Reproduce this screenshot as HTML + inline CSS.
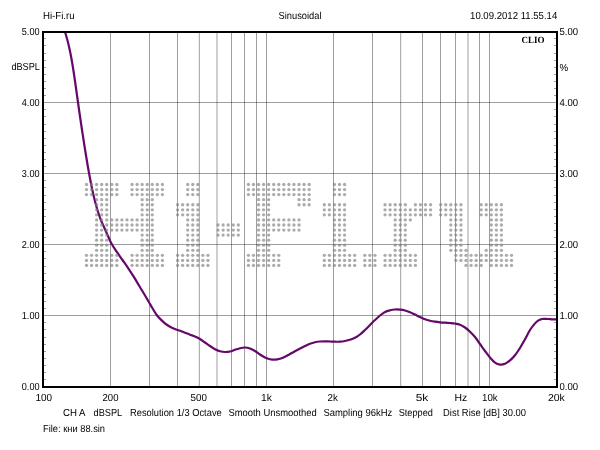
<!DOCTYPE html>
<html><head><meta charset="utf-8"><title>CLIO Sinusoidal</title>
<style>html,body{margin:0;padding:0;background:#fff;width:600px;height:450px;overflow:hidden}svg{display:block}text{font-family:"Liberation Sans","Noto Sans CJK SC",sans-serif;font-size:10.2px;fill:#000;text-rendering:geometricPrecision}.clio{font-family:"Liberation Serif",serif;font-weight:bold;font-size:9.4px;text-rendering:geometricPrecision}</style></head><body>
<svg width="600" height="450" viewBox="0 0 600 450">
<rect x="0" y="0" width="600" height="450" fill="#fff"/>
<path d="M110.50 33V386 M149.50 33V386 M177.50 33V386 M199.30 33V386 M217.00 33V386 M231.50 33V386 M244.50 33V386 M256.50 33V386 M266.50 33V386 M333.50 33V386 M372.50 33V386 M400.70 33V386 M422.50 33V386 M440.50 33V386 M455.50 33V386 M468.00 33V386 M479.50 33V386 M489.50 33V386" stroke="#000" stroke-opacity="0.38" stroke-width="1" fill="none"/>
<path d="M44 315.50H556 M44 244.50H556 M44 173.50H556 M44 102.50H556" stroke="#000" stroke-opacity="0.38" stroke-width="1" fill="none"/>
<defs><clipPath id="pc"><rect x="44" y="33" width="512" height="353"/></clipPath></defs>
<path clip-path="url(#pc)" d="M63.64 28.00 C63.98 29.00 65.03 32.00 65.65 34.00 C66.27 36.00 66.84 38.00 67.37 40.00 C67.91 42.00 68.39 44.00 68.86 46.00 C69.33 48.00 69.76 50.00 70.17 52.00 C70.58 54.00 70.96 56.00 71.33 58.00 C71.70 60.00 72.04 62.00 72.38 64.00 C72.72 66.00 73.04 68.00 73.35 70.00 C73.66 72.00 73.96 74.00 74.26 76.00 C74.56 78.00 74.84 80.00 75.13 82.00 C75.42 84.00 75.70 86.00 75.98 88.00 C76.26 90.00 76.54 92.00 76.82 94.00 C77.10 96.00 77.39 98.00 77.67 100.00 C77.95 102.00 78.23 104.00 78.51 106.00 C78.79 108.00 79.08 110.00 79.37 112.00 C79.66 114.00 79.95 116.00 80.24 118.00 C80.53 120.00 80.82 122.00 81.12 124.00 C81.42 126.00 81.72 128.00 82.02 130.00 C82.32 132.00 82.63 134.00 82.94 136.00 C83.25 138.00 83.55 140.00 83.86 142.00 C84.17 144.00 84.49 146.00 84.81 148.00 C85.13 150.00 85.44 152.00 85.77 154.00 C86.09 156.00 86.43 158.00 86.76 160.00 C87.09 162.00 87.42 164.00 87.77 166.00 C88.11 168.00 88.47 170.00 88.83 172.00 C89.19 174.00 89.55 176.00 89.93 178.00 C90.31 180.00 90.69 182.00 91.09 184.00 C91.49 186.00 91.91 188.00 92.34 190.00 C92.78 192.00 93.23 194.00 93.70 196.00 C94.17 198.00 94.66 200.00 95.19 202.00 C95.72 204.00 96.26 206.00 96.85 208.00 C97.44 210.00 98.05 212.00 98.72 214.00 C99.39 216.00 100.17 218.27 100.85 220.00 C101.53 221.73 102.07 222.77 102.80 224.40 C103.53 226.03 104.33 227.87 105.20 229.80 C106.07 231.73 106.98 233.75 108.00 236.00 C109.02 238.25 109.85 240.68 111.30 243.30 C112.75 245.92 114.83 248.92 116.70 251.70 C118.57 254.48 120.57 257.23 122.50 260.00 C124.43 262.77 126.43 265.52 128.30 268.30 C130.17 271.08 131.97 273.92 133.70 276.70 C135.43 279.48 137.03 282.23 138.70 285.00 C140.37 287.77 142.03 290.52 143.70 293.30 C145.37 296.08 147.23 299.20 148.70 301.70 C150.17 304.20 151.17 306.08 152.50 308.30 C153.83 310.52 155.45 313.27 156.70 315.00 C157.95 316.73 158.63 317.32 160.00 318.70 C161.37 320.08 163.23 321.97 164.90 323.30 C166.57 324.63 168.33 325.73 170.00 326.70 C171.67 327.67 173.23 328.43 174.90 329.10 C176.57 329.77 178.32 330.10 180.00 330.70 C181.68 331.30 183.33 332.03 185.00 332.70 C186.67 333.37 188.33 334.07 190.00 334.70 C191.67 335.33 193.33 335.78 195.00 336.50 C196.67 337.22 198.33 338.00 200.00 339.00 C201.67 340.00 203.33 341.33 205.00 342.50 C206.67 343.67 208.33 344.88 210.00 346.00 C211.67 347.12 213.33 348.33 215.00 349.20 C216.67 350.07 218.33 350.73 220.00 351.20 C221.67 351.67 223.33 351.95 225.00 352.00 C226.67 352.05 228.33 351.87 230.00 351.50 C231.67 351.13 233.33 350.35 235.00 349.80 C236.67 349.25 238.33 348.58 240.00 348.20 C241.67 347.82 243.33 347.45 245.00 347.50 C246.67 347.55 248.33 347.92 250.00 348.50 C251.67 349.08 253.33 350.00 255.00 351.00 C256.67 352.00 258.33 353.42 260.00 354.50 C261.67 355.58 263.33 356.72 265.00 357.50 C266.67 358.28 268.33 358.83 270.00 359.20 C271.67 359.57 273.33 359.77 275.00 359.70 C276.67 359.63 278.33 359.28 280.00 358.80 C281.67 358.32 283.33 357.60 285.00 356.80 C286.67 356.00 288.33 354.93 290.00 354.00 C291.67 353.07 293.33 352.10 295.00 351.20 C296.67 350.30 298.33 349.47 300.00 348.60 C301.67 347.73 303.33 346.82 305.00 346.00 C306.67 345.18 308.33 344.33 310.00 343.70 C311.67 343.07 313.33 342.57 315.00 342.20 C316.67 341.83 318.33 341.65 320.00 341.50 C321.67 341.35 323.33 341.30 325.00 341.30 C326.67 341.30 328.33 341.43 330.00 341.50 C331.67 341.57 333.33 341.67 335.00 341.70 C336.67 341.73 338.33 341.82 340.00 341.70 C341.67 341.58 343.33 341.32 345.00 341.00 C346.67 340.68 348.33 340.33 350.00 339.80 C351.67 339.27 353.33 338.68 355.00 337.80 C356.67 336.92 358.33 335.80 360.00 334.50 C361.67 333.20 363.33 331.58 365.00 330.00 C366.67 328.42 368.33 326.67 370.00 325.00 C371.67 323.33 373.33 321.58 375.00 320.00 C376.67 318.42 378.33 316.83 380.00 315.50 C381.67 314.17 383.33 312.87 385.00 312.00 C386.67 311.13 388.33 310.72 390.00 310.30 C391.67 309.88 393.33 309.60 395.00 309.50 C396.67 309.40 398.33 309.53 400.00 309.70 C401.67 309.87 403.33 310.08 405.00 310.50 C406.67 310.92 408.33 311.52 410.00 312.20 C411.67 312.88 413.33 313.80 415.00 314.60 C416.67 315.40 418.33 316.22 420.00 317.00 C421.67 317.78 423.33 318.67 425.00 319.30 C426.67 319.93 428.33 320.40 430.00 320.80 C431.67 321.20 433.33 321.45 435.00 321.70 C436.67 321.95 438.33 322.13 440.00 322.30 C441.67 322.47 443.33 322.58 445.00 322.70 C446.67 322.82 448.33 322.87 450.00 323.00 C451.67 323.13 453.33 323.22 455.00 323.50 C456.67 323.78 458.33 324.03 460.00 324.70 C461.67 325.37 463.33 326.33 465.00 327.50 C466.67 328.67 468.33 330.12 470.00 331.70 C471.67 333.28 473.33 334.95 475.00 337.00 C476.67 339.05 478.33 341.67 480.00 344.00 C481.67 346.33 483.33 348.75 485.00 351.00 C486.67 353.25 488.33 355.57 490.00 357.50 C491.67 359.43 493.33 361.42 495.00 362.60 C496.67 363.78 498.33 364.40 500.00 364.60 C501.67 364.80 503.33 364.50 505.00 363.80 C506.67 363.10 508.33 361.83 510.00 360.40 C511.67 358.97 513.33 357.27 515.00 355.20 C516.67 353.13 518.33 350.65 520.00 348.00 C521.67 345.35 523.33 342.30 525.00 339.30 C526.67 336.30 528.40 332.57 530.00 330.00 C531.60 327.43 533.25 325.45 534.60 323.90 C535.95 322.35 536.87 321.52 538.10 320.70 C539.33 319.88 540.82 319.32 542.00 319.00 C543.18 318.68 544.07 318.80 545.20 318.80 C546.33 318.80 547.62 318.90 548.80 319.00 C549.98 319.10 551.10 319.35 552.30 319.40 C553.50 319.45 554.72 319.32 556.00 319.30 C557.28 319.28 559.33 319.30 560.00 319.30" fill="none" stroke="#66086a" stroke-width="2.2" stroke-linejoin="round" stroke-linecap="round"/>
<g fill="#808080" fill-opacity="0.66"><circle cx="86.50" cy="184.50" r="1.65"/><circle cx="86.50" cy="189.56" r="1.65"/><circle cx="86.50" cy="194.62" r="1.65"/><circle cx="86.50" cy="255.34" r="1.65"/><circle cx="86.50" cy="260.40" r="1.65"/><circle cx="86.50" cy="265.46" r="1.65"/><circle cx="91.56" cy="184.50" r="1.65"/><circle cx="91.56" cy="189.56" r="1.65"/><circle cx="91.56" cy="194.62" r="1.65"/><circle cx="91.56" cy="255.34" r="1.65"/><circle cx="91.56" cy="260.40" r="1.65"/><circle cx="91.56" cy="265.46" r="1.65"/><circle cx="96.62" cy="184.50" r="1.65"/><circle cx="96.62" cy="189.56" r="1.65"/><circle cx="96.62" cy="194.62" r="1.65"/><circle cx="96.62" cy="199.68" r="1.65"/><circle cx="96.62" cy="204.74" r="1.65"/><circle cx="96.62" cy="209.80" r="1.65"/><circle cx="96.62" cy="214.86" r="1.65"/><circle cx="96.62" cy="219.92" r="1.65"/><circle cx="96.62" cy="224.98" r="1.65"/><circle cx="96.62" cy="230.04" r="1.65"/><circle cx="96.62" cy="235.10" r="1.65"/><circle cx="96.62" cy="240.16" r="1.65"/><circle cx="96.62" cy="245.22" r="1.65"/><circle cx="96.62" cy="250.28" r="1.65"/><circle cx="96.62" cy="255.34" r="1.65"/><circle cx="96.62" cy="260.40" r="1.65"/><circle cx="96.62" cy="265.46" r="1.65"/><circle cx="101.68" cy="184.50" r="1.65"/><circle cx="101.68" cy="189.56" r="1.65"/><circle cx="101.68" cy="194.62" r="1.65"/><circle cx="101.68" cy="199.68" r="1.65"/><circle cx="101.68" cy="204.74" r="1.65"/><circle cx="101.68" cy="209.80" r="1.65"/><circle cx="101.68" cy="214.86" r="1.65"/><circle cx="101.68" cy="219.92" r="1.65"/><circle cx="101.68" cy="224.98" r="1.65"/><circle cx="101.68" cy="230.04" r="1.65"/><circle cx="101.68" cy="235.10" r="1.65"/><circle cx="101.68" cy="240.16" r="1.65"/><circle cx="101.68" cy="245.22" r="1.65"/><circle cx="101.68" cy="250.28" r="1.65"/><circle cx="101.68" cy="255.34" r="1.65"/><circle cx="101.68" cy="260.40" r="1.65"/><circle cx="101.68" cy="265.46" r="1.65"/><circle cx="106.74" cy="184.50" r="1.65"/><circle cx="106.74" cy="189.56" r="1.65"/><circle cx="106.74" cy="194.62" r="1.65"/><circle cx="106.74" cy="199.68" r="1.65"/><circle cx="106.74" cy="204.74" r="1.65"/><circle cx="106.74" cy="209.80" r="1.65"/><circle cx="106.74" cy="214.86" r="1.65"/><circle cx="106.74" cy="219.92" r="1.65"/><circle cx="106.74" cy="224.98" r="1.65"/><circle cx="106.74" cy="230.04" r="1.65"/><circle cx="106.74" cy="235.10" r="1.65"/><circle cx="106.74" cy="240.16" r="1.65"/><circle cx="106.74" cy="245.22" r="1.65"/><circle cx="106.74" cy="250.28" r="1.65"/><circle cx="106.74" cy="255.34" r="1.65"/><circle cx="106.74" cy="260.40" r="1.65"/><circle cx="106.74" cy="265.46" r="1.65"/><circle cx="111.80" cy="184.50" r="1.65"/><circle cx="111.80" cy="189.56" r="1.65"/><circle cx="111.80" cy="194.62" r="1.65"/><circle cx="111.80" cy="219.92" r="1.65"/><circle cx="111.80" cy="224.98" r="1.65"/><circle cx="111.80" cy="230.04" r="1.65"/><circle cx="111.80" cy="255.34" r="1.65"/><circle cx="111.80" cy="260.40" r="1.65"/><circle cx="111.80" cy="265.46" r="1.65"/><circle cx="116.86" cy="184.50" r="1.65"/><circle cx="116.86" cy="189.56" r="1.65"/><circle cx="116.86" cy="194.62" r="1.65"/><circle cx="116.86" cy="219.92" r="1.65"/><circle cx="116.86" cy="224.98" r="1.65"/><circle cx="116.86" cy="230.04" r="1.65"/><circle cx="116.86" cy="255.34" r="1.65"/><circle cx="116.86" cy="260.40" r="1.65"/><circle cx="116.86" cy="265.46" r="1.65"/><circle cx="121.92" cy="219.92" r="1.65"/><circle cx="121.92" cy="224.98" r="1.65"/><circle cx="121.92" cy="230.04" r="1.65"/><circle cx="126.98" cy="219.92" r="1.65"/><circle cx="126.98" cy="224.98" r="1.65"/><circle cx="126.98" cy="230.04" r="1.65"/><circle cx="132.04" cy="184.50" r="1.65"/><circle cx="132.04" cy="189.56" r="1.65"/><circle cx="132.04" cy="194.62" r="1.65"/><circle cx="132.04" cy="219.92" r="1.65"/><circle cx="132.04" cy="224.98" r="1.65"/><circle cx="132.04" cy="230.04" r="1.65"/><circle cx="132.04" cy="255.34" r="1.65"/><circle cx="132.04" cy="260.40" r="1.65"/><circle cx="132.04" cy="265.46" r="1.65"/><circle cx="137.10" cy="184.50" r="1.65"/><circle cx="137.10" cy="189.56" r="1.65"/><circle cx="137.10" cy="194.62" r="1.65"/><circle cx="137.10" cy="219.92" r="1.65"/><circle cx="137.10" cy="224.98" r="1.65"/><circle cx="137.10" cy="230.04" r="1.65"/><circle cx="137.10" cy="255.34" r="1.65"/><circle cx="137.10" cy="260.40" r="1.65"/><circle cx="137.10" cy="265.46" r="1.65"/><circle cx="142.16" cy="184.50" r="1.65"/><circle cx="142.16" cy="189.56" r="1.65"/><circle cx="142.16" cy="194.62" r="1.65"/><circle cx="142.16" cy="199.68" r="1.65"/><circle cx="142.16" cy="204.74" r="1.65"/><circle cx="142.16" cy="209.80" r="1.65"/><circle cx="142.16" cy="214.86" r="1.65"/><circle cx="142.16" cy="219.92" r="1.65"/><circle cx="142.16" cy="224.98" r="1.65"/><circle cx="142.16" cy="230.04" r="1.65"/><circle cx="142.16" cy="235.10" r="1.65"/><circle cx="142.16" cy="240.16" r="1.65"/><circle cx="142.16" cy="245.22" r="1.65"/><circle cx="142.16" cy="250.28" r="1.65"/><circle cx="142.16" cy="255.34" r="1.65"/><circle cx="142.16" cy="260.40" r="1.65"/><circle cx="142.16" cy="265.46" r="1.65"/><circle cx="147.22" cy="184.50" r="1.65"/><circle cx="147.22" cy="189.56" r="1.65"/><circle cx="147.22" cy="194.62" r="1.65"/><circle cx="147.22" cy="199.68" r="1.65"/><circle cx="147.22" cy="204.74" r="1.65"/><circle cx="147.22" cy="209.80" r="1.65"/><circle cx="147.22" cy="214.86" r="1.65"/><circle cx="147.22" cy="219.92" r="1.65"/><circle cx="147.22" cy="224.98" r="1.65"/><circle cx="147.22" cy="230.04" r="1.65"/><circle cx="147.22" cy="235.10" r="1.65"/><circle cx="147.22" cy="240.16" r="1.65"/><circle cx="147.22" cy="245.22" r="1.65"/><circle cx="147.22" cy="250.28" r="1.65"/><circle cx="147.22" cy="255.34" r="1.65"/><circle cx="147.22" cy="260.40" r="1.65"/><circle cx="147.22" cy="265.46" r="1.65"/><circle cx="152.28" cy="184.50" r="1.65"/><circle cx="152.28" cy="189.56" r="1.65"/><circle cx="152.28" cy="194.62" r="1.65"/><circle cx="152.28" cy="199.68" r="1.65"/><circle cx="152.28" cy="204.74" r="1.65"/><circle cx="152.28" cy="209.80" r="1.65"/><circle cx="152.28" cy="214.86" r="1.65"/><circle cx="152.28" cy="219.92" r="1.65"/><circle cx="152.28" cy="224.98" r="1.65"/><circle cx="152.28" cy="230.04" r="1.65"/><circle cx="152.28" cy="235.10" r="1.65"/><circle cx="152.28" cy="240.16" r="1.65"/><circle cx="152.28" cy="245.22" r="1.65"/><circle cx="152.28" cy="250.28" r="1.65"/><circle cx="152.28" cy="255.34" r="1.65"/><circle cx="152.28" cy="260.40" r="1.65"/><circle cx="152.28" cy="265.46" r="1.65"/><circle cx="157.34" cy="184.50" r="1.65"/><circle cx="157.34" cy="189.56" r="1.65"/><circle cx="157.34" cy="194.62" r="1.65"/><circle cx="157.34" cy="255.34" r="1.65"/><circle cx="157.34" cy="260.40" r="1.65"/><circle cx="157.34" cy="265.46" r="1.65"/><circle cx="162.40" cy="184.50" r="1.65"/><circle cx="162.40" cy="189.56" r="1.65"/><circle cx="162.40" cy="194.62" r="1.65"/><circle cx="162.40" cy="255.34" r="1.65"/><circle cx="162.40" cy="260.40" r="1.65"/><circle cx="162.40" cy="265.46" r="1.65"/><circle cx="177.58" cy="204.74" r="1.65"/><circle cx="177.58" cy="209.80" r="1.65"/><circle cx="177.58" cy="214.86" r="1.65"/><circle cx="177.58" cy="255.34" r="1.65"/><circle cx="177.58" cy="260.40" r="1.65"/><circle cx="177.58" cy="265.46" r="1.65"/><circle cx="182.64" cy="204.74" r="1.65"/><circle cx="182.64" cy="209.80" r="1.65"/><circle cx="182.64" cy="214.86" r="1.65"/><circle cx="182.64" cy="255.34" r="1.65"/><circle cx="182.64" cy="260.40" r="1.65"/><circle cx="182.64" cy="265.46" r="1.65"/><circle cx="187.70" cy="184.50" r="1.65"/><circle cx="187.70" cy="189.56" r="1.65"/><circle cx="187.70" cy="194.62" r="1.65"/><circle cx="187.70" cy="204.74" r="1.65"/><circle cx="187.70" cy="209.80" r="1.65"/><circle cx="187.70" cy="214.86" r="1.65"/><circle cx="187.70" cy="219.92" r="1.65"/><circle cx="187.70" cy="224.98" r="1.65"/><circle cx="187.70" cy="230.04" r="1.65"/><circle cx="187.70" cy="235.10" r="1.65"/><circle cx="187.70" cy="240.16" r="1.65"/><circle cx="187.70" cy="245.22" r="1.65"/><circle cx="187.70" cy="250.28" r="1.65"/><circle cx="187.70" cy="255.34" r="1.65"/><circle cx="187.70" cy="260.40" r="1.65"/><circle cx="187.70" cy="265.46" r="1.65"/><circle cx="192.76" cy="184.50" r="1.65"/><circle cx="192.76" cy="189.56" r="1.65"/><circle cx="192.76" cy="194.62" r="1.65"/><circle cx="192.76" cy="204.74" r="1.65"/><circle cx="192.76" cy="209.80" r="1.65"/><circle cx="192.76" cy="214.86" r="1.65"/><circle cx="192.76" cy="219.92" r="1.65"/><circle cx="192.76" cy="224.98" r="1.65"/><circle cx="192.76" cy="230.04" r="1.65"/><circle cx="192.76" cy="235.10" r="1.65"/><circle cx="192.76" cy="240.16" r="1.65"/><circle cx="192.76" cy="245.22" r="1.65"/><circle cx="192.76" cy="250.28" r="1.65"/><circle cx="192.76" cy="255.34" r="1.65"/><circle cx="192.76" cy="260.40" r="1.65"/><circle cx="192.76" cy="265.46" r="1.65"/><circle cx="197.82" cy="184.50" r="1.65"/><circle cx="197.82" cy="189.56" r="1.65"/><circle cx="197.82" cy="194.62" r="1.65"/><circle cx="197.82" cy="204.74" r="1.65"/><circle cx="197.82" cy="209.80" r="1.65"/><circle cx="197.82" cy="214.86" r="1.65"/><circle cx="197.82" cy="219.92" r="1.65"/><circle cx="197.82" cy="224.98" r="1.65"/><circle cx="197.82" cy="230.04" r="1.65"/><circle cx="197.82" cy="235.10" r="1.65"/><circle cx="197.82" cy="240.16" r="1.65"/><circle cx="197.82" cy="245.22" r="1.65"/><circle cx="197.82" cy="250.28" r="1.65"/><circle cx="197.82" cy="255.34" r="1.65"/><circle cx="197.82" cy="260.40" r="1.65"/><circle cx="197.82" cy="265.46" r="1.65"/><circle cx="202.88" cy="255.34" r="1.65"/><circle cx="202.88" cy="260.40" r="1.65"/><circle cx="202.88" cy="265.46" r="1.65"/><circle cx="207.94" cy="255.34" r="1.65"/><circle cx="207.94" cy="260.40" r="1.65"/><circle cx="207.94" cy="265.46" r="1.65"/><circle cx="218.06" cy="224.98" r="1.65"/><circle cx="218.06" cy="230.04" r="1.65"/><circle cx="218.06" cy="235.10" r="1.65"/><circle cx="223.12" cy="224.98" r="1.65"/><circle cx="223.12" cy="230.04" r="1.65"/><circle cx="223.12" cy="235.10" r="1.65"/><circle cx="228.18" cy="224.98" r="1.65"/><circle cx="228.18" cy="230.04" r="1.65"/><circle cx="228.18" cy="235.10" r="1.65"/><circle cx="233.24" cy="224.98" r="1.65"/><circle cx="233.24" cy="230.04" r="1.65"/><circle cx="233.24" cy="235.10" r="1.65"/><circle cx="238.30" cy="224.98" r="1.65"/><circle cx="238.30" cy="230.04" r="1.65"/><circle cx="238.30" cy="235.10" r="1.65"/><circle cx="248.42" cy="184.50" r="1.65"/><circle cx="248.42" cy="189.56" r="1.65"/><circle cx="248.42" cy="194.62" r="1.65"/><circle cx="248.42" cy="255.34" r="1.65"/><circle cx="248.42" cy="260.40" r="1.65"/><circle cx="248.42" cy="265.46" r="1.65"/><circle cx="253.48" cy="184.50" r="1.65"/><circle cx="253.48" cy="189.56" r="1.65"/><circle cx="253.48" cy="194.62" r="1.65"/><circle cx="253.48" cy="255.34" r="1.65"/><circle cx="253.48" cy="260.40" r="1.65"/><circle cx="253.48" cy="265.46" r="1.65"/><circle cx="258.54" cy="184.50" r="1.65"/><circle cx="258.54" cy="189.56" r="1.65"/><circle cx="258.54" cy="194.62" r="1.65"/><circle cx="258.54" cy="199.68" r="1.65"/><circle cx="258.54" cy="204.74" r="1.65"/><circle cx="258.54" cy="209.80" r="1.65"/><circle cx="258.54" cy="214.86" r="1.65"/><circle cx="258.54" cy="219.92" r="1.65"/><circle cx="258.54" cy="224.98" r="1.65"/><circle cx="258.54" cy="230.04" r="1.65"/><circle cx="258.54" cy="235.10" r="1.65"/><circle cx="258.54" cy="240.16" r="1.65"/><circle cx="258.54" cy="245.22" r="1.65"/><circle cx="258.54" cy="250.28" r="1.65"/><circle cx="258.54" cy="255.34" r="1.65"/><circle cx="258.54" cy="260.40" r="1.65"/><circle cx="258.54" cy="265.46" r="1.65"/><circle cx="263.60" cy="184.50" r="1.65"/><circle cx="263.60" cy="189.56" r="1.65"/><circle cx="263.60" cy="194.62" r="1.65"/><circle cx="263.60" cy="199.68" r="1.65"/><circle cx="263.60" cy="204.74" r="1.65"/><circle cx="263.60" cy="209.80" r="1.65"/><circle cx="263.60" cy="214.86" r="1.65"/><circle cx="263.60" cy="219.92" r="1.65"/><circle cx="263.60" cy="224.98" r="1.65"/><circle cx="263.60" cy="230.04" r="1.65"/><circle cx="263.60" cy="235.10" r="1.65"/><circle cx="263.60" cy="240.16" r="1.65"/><circle cx="263.60" cy="245.22" r="1.65"/><circle cx="263.60" cy="250.28" r="1.65"/><circle cx="263.60" cy="255.34" r="1.65"/><circle cx="263.60" cy="260.40" r="1.65"/><circle cx="263.60" cy="265.46" r="1.65"/><circle cx="268.66" cy="184.50" r="1.65"/><circle cx="268.66" cy="189.56" r="1.65"/><circle cx="268.66" cy="194.62" r="1.65"/><circle cx="268.66" cy="199.68" r="1.65"/><circle cx="268.66" cy="204.74" r="1.65"/><circle cx="268.66" cy="209.80" r="1.65"/><circle cx="268.66" cy="214.86" r="1.65"/><circle cx="268.66" cy="219.92" r="1.65"/><circle cx="268.66" cy="224.98" r="1.65"/><circle cx="268.66" cy="230.04" r="1.65"/><circle cx="268.66" cy="235.10" r="1.65"/><circle cx="268.66" cy="240.16" r="1.65"/><circle cx="268.66" cy="245.22" r="1.65"/><circle cx="268.66" cy="250.28" r="1.65"/><circle cx="268.66" cy="255.34" r="1.65"/><circle cx="268.66" cy="260.40" r="1.65"/><circle cx="268.66" cy="265.46" r="1.65"/><circle cx="273.72" cy="184.50" r="1.65"/><circle cx="273.72" cy="189.56" r="1.65"/><circle cx="273.72" cy="194.62" r="1.65"/><circle cx="273.72" cy="219.92" r="1.65"/><circle cx="273.72" cy="224.98" r="1.65"/><circle cx="273.72" cy="230.04" r="1.65"/><circle cx="273.72" cy="255.34" r="1.65"/><circle cx="273.72" cy="260.40" r="1.65"/><circle cx="273.72" cy="265.46" r="1.65"/><circle cx="278.78" cy="184.50" r="1.65"/><circle cx="278.78" cy="189.56" r="1.65"/><circle cx="278.78" cy="194.62" r="1.65"/><circle cx="278.78" cy="219.92" r="1.65"/><circle cx="278.78" cy="224.98" r="1.65"/><circle cx="278.78" cy="230.04" r="1.65"/><circle cx="278.78" cy="255.34" r="1.65"/><circle cx="278.78" cy="260.40" r="1.65"/><circle cx="278.78" cy="265.46" r="1.65"/><circle cx="283.84" cy="184.50" r="1.65"/><circle cx="283.84" cy="189.56" r="1.65"/><circle cx="283.84" cy="194.62" r="1.65"/><circle cx="283.84" cy="219.92" r="1.65"/><circle cx="283.84" cy="224.98" r="1.65"/><circle cx="283.84" cy="230.04" r="1.65"/><circle cx="288.90" cy="184.50" r="1.65"/><circle cx="288.90" cy="189.56" r="1.65"/><circle cx="288.90" cy="194.62" r="1.65"/><circle cx="288.90" cy="219.92" r="1.65"/><circle cx="288.90" cy="224.98" r="1.65"/><circle cx="288.90" cy="230.04" r="1.65"/><circle cx="293.96" cy="184.50" r="1.65"/><circle cx="293.96" cy="189.56" r="1.65"/><circle cx="293.96" cy="194.62" r="1.65"/><circle cx="293.96" cy="219.92" r="1.65"/><circle cx="293.96" cy="224.98" r="1.65"/><circle cx="293.96" cy="230.04" r="1.65"/><circle cx="299.02" cy="184.50" r="1.65"/><circle cx="299.02" cy="189.56" r="1.65"/><circle cx="299.02" cy="194.62" r="1.65"/><circle cx="299.02" cy="199.68" r="1.65"/><circle cx="299.02" cy="204.74" r="1.65"/><circle cx="299.02" cy="219.92" r="1.65"/><circle cx="299.02" cy="224.98" r="1.65"/><circle cx="299.02" cy="230.04" r="1.65"/><circle cx="304.08" cy="184.50" r="1.65"/><circle cx="304.08" cy="189.56" r="1.65"/><circle cx="304.08" cy="194.62" r="1.65"/><circle cx="304.08" cy="199.68" r="1.65"/><circle cx="304.08" cy="204.74" r="1.65"/><circle cx="309.14" cy="184.50" r="1.65"/><circle cx="309.14" cy="189.56" r="1.65"/><circle cx="309.14" cy="194.62" r="1.65"/><circle cx="309.14" cy="199.68" r="1.65"/><circle cx="309.14" cy="204.74" r="1.65"/><circle cx="324.32" cy="204.74" r="1.65"/><circle cx="324.32" cy="209.80" r="1.65"/><circle cx="324.32" cy="214.86" r="1.65"/><circle cx="324.32" cy="255.34" r="1.65"/><circle cx="324.32" cy="260.40" r="1.65"/><circle cx="324.32" cy="265.46" r="1.65"/><circle cx="329.38" cy="204.74" r="1.65"/><circle cx="329.38" cy="209.80" r="1.65"/><circle cx="329.38" cy="214.86" r="1.65"/><circle cx="329.38" cy="255.34" r="1.65"/><circle cx="329.38" cy="260.40" r="1.65"/><circle cx="329.38" cy="265.46" r="1.65"/><circle cx="334.44" cy="184.50" r="1.65"/><circle cx="334.44" cy="189.56" r="1.65"/><circle cx="334.44" cy="194.62" r="1.65"/><circle cx="334.44" cy="204.74" r="1.65"/><circle cx="334.44" cy="209.80" r="1.65"/><circle cx="334.44" cy="214.86" r="1.65"/><circle cx="334.44" cy="219.92" r="1.65"/><circle cx="334.44" cy="224.98" r="1.65"/><circle cx="334.44" cy="230.04" r="1.65"/><circle cx="334.44" cy="235.10" r="1.65"/><circle cx="334.44" cy="240.16" r="1.65"/><circle cx="334.44" cy="245.22" r="1.65"/><circle cx="334.44" cy="250.28" r="1.65"/><circle cx="334.44" cy="255.34" r="1.65"/><circle cx="334.44" cy="260.40" r="1.65"/><circle cx="334.44" cy="265.46" r="1.65"/><circle cx="339.50" cy="184.50" r="1.65"/><circle cx="339.50" cy="189.56" r="1.65"/><circle cx="339.50" cy="194.62" r="1.65"/><circle cx="339.50" cy="204.74" r="1.65"/><circle cx="339.50" cy="209.80" r="1.65"/><circle cx="339.50" cy="214.86" r="1.65"/><circle cx="339.50" cy="219.92" r="1.65"/><circle cx="339.50" cy="224.98" r="1.65"/><circle cx="339.50" cy="230.04" r="1.65"/><circle cx="339.50" cy="235.10" r="1.65"/><circle cx="339.50" cy="240.16" r="1.65"/><circle cx="339.50" cy="245.22" r="1.65"/><circle cx="339.50" cy="250.28" r="1.65"/><circle cx="339.50" cy="255.34" r="1.65"/><circle cx="339.50" cy="260.40" r="1.65"/><circle cx="339.50" cy="265.46" r="1.65"/><circle cx="344.56" cy="184.50" r="1.65"/><circle cx="344.56" cy="189.56" r="1.65"/><circle cx="344.56" cy="194.62" r="1.65"/><circle cx="344.56" cy="204.74" r="1.65"/><circle cx="344.56" cy="209.80" r="1.65"/><circle cx="344.56" cy="214.86" r="1.65"/><circle cx="344.56" cy="219.92" r="1.65"/><circle cx="344.56" cy="224.98" r="1.65"/><circle cx="344.56" cy="230.04" r="1.65"/><circle cx="344.56" cy="235.10" r="1.65"/><circle cx="344.56" cy="240.16" r="1.65"/><circle cx="344.56" cy="245.22" r="1.65"/><circle cx="344.56" cy="250.28" r="1.65"/><circle cx="344.56" cy="255.34" r="1.65"/><circle cx="344.56" cy="260.40" r="1.65"/><circle cx="344.56" cy="265.46" r="1.65"/><circle cx="349.62" cy="255.34" r="1.65"/><circle cx="349.62" cy="260.40" r="1.65"/><circle cx="349.62" cy="265.46" r="1.65"/><circle cx="354.68" cy="255.34" r="1.65"/><circle cx="354.68" cy="260.40" r="1.65"/><circle cx="354.68" cy="265.46" r="1.65"/><circle cx="364.80" cy="255.34" r="1.65"/><circle cx="364.80" cy="260.40" r="1.65"/><circle cx="364.80" cy="265.46" r="1.65"/><circle cx="369.86" cy="255.34" r="1.65"/><circle cx="369.86" cy="260.40" r="1.65"/><circle cx="369.86" cy="265.46" r="1.65"/><circle cx="374.92" cy="255.34" r="1.65"/><circle cx="374.92" cy="260.40" r="1.65"/><circle cx="374.92" cy="265.46" r="1.65"/><circle cx="385.04" cy="204.74" r="1.65"/><circle cx="385.04" cy="209.80" r="1.65"/><circle cx="385.04" cy="214.86" r="1.65"/><circle cx="385.04" cy="255.34" r="1.65"/><circle cx="385.04" cy="260.40" r="1.65"/><circle cx="385.04" cy="265.46" r="1.65"/><circle cx="390.10" cy="204.74" r="1.65"/><circle cx="390.10" cy="209.80" r="1.65"/><circle cx="390.10" cy="214.86" r="1.65"/><circle cx="390.10" cy="255.34" r="1.65"/><circle cx="390.10" cy="260.40" r="1.65"/><circle cx="390.10" cy="265.46" r="1.65"/><circle cx="395.16" cy="204.74" r="1.65"/><circle cx="395.16" cy="209.80" r="1.65"/><circle cx="395.16" cy="214.86" r="1.65"/><circle cx="395.16" cy="219.92" r="1.65"/><circle cx="395.16" cy="224.98" r="1.65"/><circle cx="395.16" cy="230.04" r="1.65"/><circle cx="395.16" cy="235.10" r="1.65"/><circle cx="395.16" cy="240.16" r="1.65"/><circle cx="395.16" cy="245.22" r="1.65"/><circle cx="395.16" cy="250.28" r="1.65"/><circle cx="395.16" cy="255.34" r="1.65"/><circle cx="395.16" cy="260.40" r="1.65"/><circle cx="395.16" cy="265.46" r="1.65"/><circle cx="400.22" cy="204.74" r="1.65"/><circle cx="400.22" cy="209.80" r="1.65"/><circle cx="400.22" cy="214.86" r="1.65"/><circle cx="400.22" cy="219.92" r="1.65"/><circle cx="400.22" cy="224.98" r="1.65"/><circle cx="400.22" cy="230.04" r="1.65"/><circle cx="400.22" cy="235.10" r="1.65"/><circle cx="400.22" cy="240.16" r="1.65"/><circle cx="400.22" cy="245.22" r="1.65"/><circle cx="400.22" cy="250.28" r="1.65"/><circle cx="400.22" cy="255.34" r="1.65"/><circle cx="400.22" cy="260.40" r="1.65"/><circle cx="400.22" cy="265.46" r="1.65"/><circle cx="405.28" cy="204.74" r="1.65"/><circle cx="405.28" cy="209.80" r="1.65"/><circle cx="405.28" cy="214.86" r="1.65"/><circle cx="405.28" cy="219.92" r="1.65"/><circle cx="405.28" cy="224.98" r="1.65"/><circle cx="405.28" cy="230.04" r="1.65"/><circle cx="405.28" cy="235.10" r="1.65"/><circle cx="405.28" cy="240.16" r="1.65"/><circle cx="405.28" cy="245.22" r="1.65"/><circle cx="405.28" cy="250.28" r="1.65"/><circle cx="405.28" cy="255.34" r="1.65"/><circle cx="405.28" cy="260.40" r="1.65"/><circle cx="405.28" cy="265.46" r="1.65"/><circle cx="410.34" cy="209.80" r="1.65"/><circle cx="410.34" cy="214.86" r="1.65"/><circle cx="410.34" cy="219.92" r="1.65"/><circle cx="410.34" cy="255.34" r="1.65"/><circle cx="410.34" cy="260.40" r="1.65"/><circle cx="410.34" cy="265.46" r="1.65"/><circle cx="415.40" cy="204.74" r="1.65"/><circle cx="415.40" cy="209.80" r="1.65"/><circle cx="415.40" cy="214.86" r="1.65"/><circle cx="415.40" cy="255.34" r="1.65"/><circle cx="415.40" cy="260.40" r="1.65"/><circle cx="415.40" cy="265.46" r="1.65"/><circle cx="420.46" cy="204.74" r="1.65"/><circle cx="420.46" cy="209.80" r="1.65"/><circle cx="420.46" cy="214.86" r="1.65"/><circle cx="425.52" cy="204.74" r="1.65"/><circle cx="425.52" cy="209.80" r="1.65"/><circle cx="425.52" cy="214.86" r="1.65"/><circle cx="430.58" cy="204.74" r="1.65"/><circle cx="430.58" cy="209.80" r="1.65"/><circle cx="430.58" cy="214.86" r="1.65"/><circle cx="440.70" cy="204.74" r="1.65"/><circle cx="440.70" cy="209.80" r="1.65"/><circle cx="440.70" cy="214.86" r="1.65"/><circle cx="445.76" cy="204.74" r="1.65"/><circle cx="445.76" cy="209.80" r="1.65"/><circle cx="445.76" cy="214.86" r="1.65"/><circle cx="450.82" cy="204.74" r="1.65"/><circle cx="450.82" cy="209.80" r="1.65"/><circle cx="450.82" cy="214.86" r="1.65"/><circle cx="450.82" cy="219.92" r="1.65"/><circle cx="450.82" cy="224.98" r="1.65"/><circle cx="450.82" cy="230.04" r="1.65"/><circle cx="450.82" cy="235.10" r="1.65"/><circle cx="450.82" cy="240.16" r="1.65"/><circle cx="450.82" cy="245.22" r="1.65"/><circle cx="450.82" cy="250.28" r="1.65"/><circle cx="455.88" cy="204.74" r="1.65"/><circle cx="455.88" cy="209.80" r="1.65"/><circle cx="455.88" cy="214.86" r="1.65"/><circle cx="455.88" cy="219.92" r="1.65"/><circle cx="455.88" cy="224.98" r="1.65"/><circle cx="455.88" cy="230.04" r="1.65"/><circle cx="455.88" cy="235.10" r="1.65"/><circle cx="455.88" cy="240.16" r="1.65"/><circle cx="455.88" cy="245.22" r="1.65"/><circle cx="455.88" cy="250.28" r="1.65"/><circle cx="455.88" cy="255.34" r="1.65"/><circle cx="455.88" cy="260.40" r="1.65"/><circle cx="460.94" cy="204.74" r="1.65"/><circle cx="460.94" cy="209.80" r="1.65"/><circle cx="460.94" cy="214.86" r="1.65"/><circle cx="460.94" cy="219.92" r="1.65"/><circle cx="460.94" cy="224.98" r="1.65"/><circle cx="460.94" cy="230.04" r="1.65"/><circle cx="460.94" cy="235.10" r="1.65"/><circle cx="460.94" cy="240.16" r="1.65"/><circle cx="460.94" cy="245.22" r="1.65"/><circle cx="460.94" cy="250.28" r="1.65"/><circle cx="460.94" cy="255.34" r="1.65"/><circle cx="460.94" cy="260.40" r="1.65"/><circle cx="466.00" cy="250.28" r="1.65"/><circle cx="466.00" cy="255.34" r="1.65"/><circle cx="466.00" cy="260.40" r="1.65"/><circle cx="466.00" cy="265.46" r="1.65"/><circle cx="471.06" cy="255.34" r="1.65"/><circle cx="471.06" cy="260.40" r="1.65"/><circle cx="471.06" cy="265.46" r="1.65"/><circle cx="476.12" cy="255.34" r="1.65"/><circle cx="476.12" cy="260.40" r="1.65"/><circle cx="476.12" cy="265.46" r="1.65"/><circle cx="481.18" cy="204.74" r="1.65"/><circle cx="481.18" cy="209.80" r="1.65"/><circle cx="481.18" cy="214.86" r="1.65"/><circle cx="481.18" cy="255.34" r="1.65"/><circle cx="481.18" cy="260.40" r="1.65"/><circle cx="481.18" cy="265.46" r="1.65"/><circle cx="486.24" cy="204.74" r="1.65"/><circle cx="486.24" cy="209.80" r="1.65"/><circle cx="486.24" cy="214.86" r="1.65"/><circle cx="486.24" cy="250.28" r="1.65"/><circle cx="486.24" cy="255.34" r="1.65"/><circle cx="486.24" cy="260.40" r="1.65"/><circle cx="491.30" cy="204.74" r="1.65"/><circle cx="491.30" cy="209.80" r="1.65"/><circle cx="491.30" cy="214.86" r="1.65"/><circle cx="491.30" cy="219.92" r="1.65"/><circle cx="491.30" cy="224.98" r="1.65"/><circle cx="491.30" cy="230.04" r="1.65"/><circle cx="491.30" cy="235.10" r="1.65"/><circle cx="491.30" cy="240.16" r="1.65"/><circle cx="491.30" cy="245.22" r="1.65"/><circle cx="491.30" cy="250.28" r="1.65"/><circle cx="491.30" cy="255.34" r="1.65"/><circle cx="491.30" cy="260.40" r="1.65"/><circle cx="491.30" cy="265.46" r="1.65"/><circle cx="496.36" cy="204.74" r="1.65"/><circle cx="496.36" cy="209.80" r="1.65"/><circle cx="496.36" cy="214.86" r="1.65"/><circle cx="496.36" cy="219.92" r="1.65"/><circle cx="496.36" cy="224.98" r="1.65"/><circle cx="496.36" cy="230.04" r="1.65"/><circle cx="496.36" cy="235.10" r="1.65"/><circle cx="496.36" cy="240.16" r="1.65"/><circle cx="496.36" cy="245.22" r="1.65"/><circle cx="496.36" cy="250.28" r="1.65"/><circle cx="496.36" cy="255.34" r="1.65"/><circle cx="496.36" cy="260.40" r="1.65"/><circle cx="496.36" cy="265.46" r="1.65"/><circle cx="501.42" cy="204.74" r="1.65"/><circle cx="501.42" cy="209.80" r="1.65"/><circle cx="501.42" cy="214.86" r="1.65"/><circle cx="501.42" cy="219.92" r="1.65"/><circle cx="501.42" cy="224.98" r="1.65"/><circle cx="501.42" cy="230.04" r="1.65"/><circle cx="501.42" cy="235.10" r="1.65"/><circle cx="501.42" cy="240.16" r="1.65"/><circle cx="501.42" cy="245.22" r="1.65"/><circle cx="501.42" cy="250.28" r="1.65"/><circle cx="501.42" cy="255.34" r="1.65"/><circle cx="501.42" cy="260.40" r="1.65"/><circle cx="501.42" cy="265.46" r="1.65"/><circle cx="506.48" cy="255.34" r="1.65"/><circle cx="506.48" cy="260.40" r="1.65"/><circle cx="506.48" cy="265.46" r="1.65"/><circle cx="511.54" cy="255.34" r="1.65"/><circle cx="511.54" cy="260.40" r="1.65"/><circle cx="511.54" cy="265.46" r="1.65"/></g>
<path d="M44 379.50H46 M554 379.50H556 M44 372.50H46 M554 372.50H556 M44 365.50H46 M554 365.50H556 M44 358.50H46 M554 358.50H556 M44 351.50H46 M554 351.50H556 M44 344.50H46 M554 344.50H556 M44 337.50H46 M554 337.50H556 M44 329.50H46 M554 329.50H556 M44 322.50H46 M554 322.50H556 M44 308.50H46 M554 308.50H556 M44 301.50H46 M554 301.50H556 M44 294.50H46 M554 294.50H556 M44 287.50H46 M554 287.50H556 M44 280.50H46 M554 280.50H556 M44 273.50H46 M554 273.50H556 M44 266.50H46 M554 266.50H556 M44 258.50H46 M554 258.50H556 M44 251.50H46 M554 251.50H556 M44 237.50H46 M554 237.50H556 M44 230.50H46 M554 230.50H556 M44 223.50H46 M554 223.50H556 M44 216.50H46 M554 216.50H556 M44 209.50H46 M554 209.50H556 M44 202.50H46 M554 202.50H556 M44 195.50H46 M554 195.50H556 M44 187.50H46 M554 187.50H556 M44 180.50H46 M554 180.50H556 M44 166.50H46 M554 166.50H556 M44 159.50H46 M554 159.50H556 M44 152.50H46 M554 152.50H556 M44 145.50H46 M554 145.50H556 M44 138.50H46 M554 138.50H556 M44 131.50H46 M554 131.50H556 M44 124.50H46 M554 124.50H556 M44 116.50H46 M554 116.50H556 M44 109.50H46 M554 109.50H556 M44 95.50H46 M554 95.50H556 M44 88.50H46 M554 88.50H556 M44 81.50H46 M554 81.50H556 M44 74.50H46 M554 74.50H556 M44 67.50H46 M554 67.50H556 M44 60.50H46 M554 60.50H556 M44 53.50H46 M554 53.50H556 M44 45.50H46 M554 45.50H556 M44 38.50H46 M554 38.50H556" stroke="#a0a0a0" stroke-width="1" fill="none"/>
<path d="M42 31H558V33H44V386H556V33H558V388H42Z" fill="#000" fill-rule="evenodd"/>
<text id="hifi" x="42.99" y="19" textLength="31.63" lengthAdjust="spacingAndGlyphs">Hi-Fi.ru</text>
<text id="sinus" x="278.55" y="19" textLength="42.95" lengthAdjust="spacingAndGlyphs">Sinusoidal</text>
<text id="date" x="470.06" y="19" textLength="87.23" lengthAdjust="spacingAndGlyphs">10.09.2012 11.55.14</text>
<text id="clio" x="521.48" y="43" class="clio" textLength="23.01" lengthAdjust="spacingAndGlyphs">CLIO</text>
<text id="L5" x="21.76" y="35" textLength="17.80" lengthAdjust="spacingAndGlyphs">5.00</text>
<text id="L4" x="21.76" y="106" textLength="17.80" lengthAdjust="spacingAndGlyphs">4.00</text>
<text id="L3" x="21.76" y="177" textLength="17.80" lengthAdjust="spacingAndGlyphs">3.00</text>
<text id="L2" x="21.76" y="248" textLength="17.80" lengthAdjust="spacingAndGlyphs">2.00</text>
<text id="L1" x="21.76" y="319" textLength="17.80" lengthAdjust="spacingAndGlyphs">1.00</text>
<text id="L0" x="21.76" y="390" textLength="17.80" lengthAdjust="spacingAndGlyphs">0.00</text>
<text id="dbspl" x="11.45" y="70" textLength="28.42" lengthAdjust="spacingAndGlyphs">dBSPL</text>
<text id="R5" x="559.50" y="35" textLength="18.60" lengthAdjust="spacingAndGlyphs">5.00</text>
<text id="R4" x="559.50" y="106" textLength="18.60" lengthAdjust="spacingAndGlyphs">4.00</text>
<text id="R3" x="559.50" y="177" textLength="18.60" lengthAdjust="spacingAndGlyphs">3.00</text>
<text id="R2" x="559.50" y="248" textLength="18.60" lengthAdjust="spacingAndGlyphs">2.00</text>
<text id="R1" x="559.50" y="319" textLength="18.60" lengthAdjust="spacingAndGlyphs">1.00</text>
<text id="R0" x="559.50" y="390" textLength="18.60" lengthAdjust="spacingAndGlyphs">0.00</text>
<text id="pct" x="559.54" y="71" textLength="8.67" lengthAdjust="spacingAndGlyphs">%</text>
<text id="f100" x="35.47" y="400.6" textLength="16.63" lengthAdjust="spacingAndGlyphs">100</text>
<text id="f200" x="102.50" y="400.6" textLength="15.97" lengthAdjust="spacingAndGlyphs">200</text>
<text id="f500" x="190.50" y="400.6" textLength="16.39" lengthAdjust="spacingAndGlyphs">500</text>
<text id="f1k" x="260.92" y="400.6" textLength="10.90" lengthAdjust="spacingAndGlyphs">1k</text>
<text id="f2k" x="327.51" y="400.6" textLength="10.34" lengthAdjust="spacingAndGlyphs">2k</text>
<text id="f5k" x="415.69" y="400.6" textLength="12.58" lengthAdjust="spacingAndGlyphs">5k</text>
<text id="fHz" x="454.45" y="400.6" textLength="12.73" lengthAdjust="spacingAndGlyphs">Hz</text>
<text id="f10k" x="482.05" y="400.6" textLength="15.59" lengthAdjust="spacingAndGlyphs">10k</text>
<text id="f20k" x="547.97" y="400.6" textLength="16.90" lengthAdjust="spacingAndGlyphs">20k</text>
<text id="cha" x="63.01" y="415.8" textLength="22.56" lengthAdjust="spacingAndGlyphs">CH A</text>
<text id="dbspl2" x="93.53" y="415.8" textLength="28.65" lengthAdjust="spacingAndGlyphs">dBSPL</text>
<text id="reso" x="130.00" y="415.8" textLength="91.74" lengthAdjust="spacingAndGlyphs">Resolution 1/3 Octave</text>
<text id="smooth" x="228.40" y="415.8" textLength="88.42" lengthAdjust="spacingAndGlyphs">Smooth Unsmoothed</text>
<text id="sampl" x="323.42" y="415.8" textLength="68.83" lengthAdjust="spacingAndGlyphs">Sampling 96kHz</text>
<text id="stepped" x="398.69" y="415.8" textLength="34.15" lengthAdjust="spacingAndGlyphs">Stepped</text>
<text id="dist" x="443.08" y="415.8" textLength="82.95" lengthAdjust="spacingAndGlyphs">Dist Rise [dB] 30.00</text>
<text id="file" x="43.06" y="432" textLength="62.01" lengthAdjust="spacingAndGlyphs">File: кни 88.sin</text>
</svg></body></html>
